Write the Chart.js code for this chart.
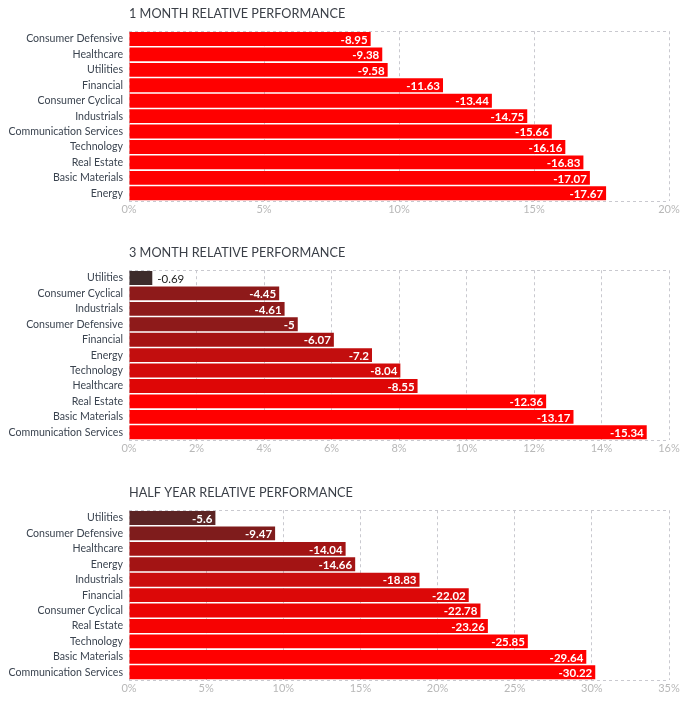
<!DOCTYPE html>
<html>
<head>
<meta charset="utf-8">
<script src="https://cdn.jsdelivr.net/npm/chart.js@4.4.0/dist/chart.umd.min.js"></script>
<style>
  body { margin: 0; background: #fff; }
  .box { position: absolute; left: 0; width: 687px; height: 217px; }
</style>
</head>
<body>
<div class="box" style="top:0px"><canvas id="ch1"></canvas></div>
<div class="box" style="top:239px"><canvas id="ch2"></canvas></div>
<div class="box" style="top:479px"><canvas id="ch3"></canvas></div>
<script>
// sectors and relative performance (%), one set per period
var sectors1 = ['Consumer Defensive','Healthcare','Utilities','Financial','Consumer Cyclical','Industrials','Communication Services','Technology','Real Estate','Basic Materials','Energy'];
var perf1 = [-8.95, -9.38, -9.58, -11.63, -13.44, -14.75, -15.66, -16.16, -16.83, -17.07, -17.67];

var sectors3 = ['Utilities','Consumer Cyclical','Industrials','Consumer Defensive','Financial','Energy','Technology','Healthcare','Real Estate','Basic Materials','Communication Services'];
var perf3 = [-0.69, -4.45, -4.61, -5, -6.07, -7.2, -8.04, -8.55, -12.36, -13.17, -15.34];

var sectors6 = ['Utilities','Consumer Defensive','Healthcare','Energy','Industrials','Financial','Consumer Cyclical','Real Estate','Technology','Basic Materials','Communication Services'];
var perf6 = [-5.6, -9.47, -14.04, -14.66, -18.83, -22.02, -22.78, -23.26, -25.85, -29.64, -30.22];

// x axis ticks
var ticks1 = [0, 5, 10, 15, 20];
var ticks3 = [0, 2, 4, 6, 8, 10, 12, 14, 16];
var ticks6 = [0, 5, 10, 15, 20, 25, 30, 35];

// bar colours
var colors1 = Array(11).fill('#ff0000');
var colors3 = ['#3d2b2b','#8e1a1a','#8e1a1a','#8e1a1a','#a61212','#c20e0e','#d30a0a','#de0606','#ff0000','#ff0000','#ff0000'];
var colors6 = ['#5c2424','#7f1c1c','#a31414','#a31414','#cb0d0d','#dc0808','#ec0404','#f70202','#ff0000','#ff0000','#ff0000'];

var FONT = 'Lato, "Open Sans", sans-serif';
var GRID = '#c9c9cf';

// value labels at the end of each bar
var valueLabels = {
  id: 'valueLabels',
  afterDatasetsDraw: function(chart) {
    var ctx = chart.ctx;
    var vals = chart.config._config.rawValues;
    chart.getDatasetMeta(0).data.forEach(function(bar, i) {
      var txt = String(vals[i]);
      ctx.save();
      ctx.font = 'bold 11.5px ' + FONT;
      var w = ctx.measureText(txt).width;
      ctx.textBaseline = 'middle';
      if (bar.x - bar.base > w + 8) {
        ctx.fillStyle = '#fff';
        ctx.textAlign = 'right';
        ctx.fillText(txt, bar.x - 3, bar.y + 1);
      } else {
        ctx.font = '11.5px ' + FONT;
        ctx.fillStyle = '#222';
        ctx.textAlign = 'left';
        ctx.fillText(txt, bar.x + 5, bar.y + 1);
      }
      ctx.restore();
    });
  }
};

function makeChart(id, title, labels, values, colors, xticks) {
  var step = xticks[1] - xticks[0];
  var cfg = {
    type: 'bar',
    rawValues: values,
    data: {
      labels: labels,
      datasets: [{
        data: values.map(function(v) { return Math.abs(v); }),
        backgroundColor: colors,
        borderWidth: 0,
        barPercentage: 0.9,
        categoryPercentage: 1
      }]
    },
    options: {
      indexAxis: 'y',
      responsive: true,
      maintainAspectRatio: false,
      animation: false,
      layout: { padding: { left: 0, right: 18, top: 0, bottom: 0 } },
      plugins: {
        legend: { display: false },
        tooltip: { enabled: false },
        title: {
          display: true,
          text: title,
          align: 'start',
          fullSize: false,
          color: '#3a3f47',
          font: { family: FONT, size: 12.7, weight: 'normal' },
          padding: { top: 6, bottom: 10 }
        }
      },
      scales: {
        x: {
          min: xticks[0],
          max: xticks[xticks.length - 1],
          afterFit: function(s) { s.height = 16; },
          ticks: {
            stepSize: step,
            color: '#b8b8b8',
            font: { family: FONT, size: 11 },
            padding: 2,
            callback: function(v) { return v + '%'; }
          },
          grid: { color: GRID, drawTicks: false, borderDash: [3, 3] },
          border: { display: false, dash: [3, 3] }
        },
        y: {
          afterFit: function(s) { s.width = 129; },
          ticks: {
            autoSkip: false,
            color: '#3b4450',
            font: { family: FONT, size: 10.6 },
            padding: 6
          },
          grid: {
            drawTicks: false,
            z: 1,
            borderDash: [3, 3],
            color: function(c) {
              return (c.index === 0 || c.index === undefined) ? GRID : 'rgba(0,0,0,0)';
            }
          },
          border: { display: false, dash: [3, 3] }
        }
      }
    },
    plugins: [valueLabels]
  };
  return new Chart(document.getElementById(id), cfg);
}

makeChart('ch1', '1 MONTH RELATIVE PERFORMANCE', sectors1, perf1, colors1, ticks1);
makeChart('ch2', '3 MONTH RELATIVE PERFORMANCE', sectors3, perf3, colors3, ticks3);
makeChart('ch3', 'HALF YEAR RELATIVE PERFORMANCE', sectors6, perf6, colors6, ticks6);
</script>
</body>
</html>
